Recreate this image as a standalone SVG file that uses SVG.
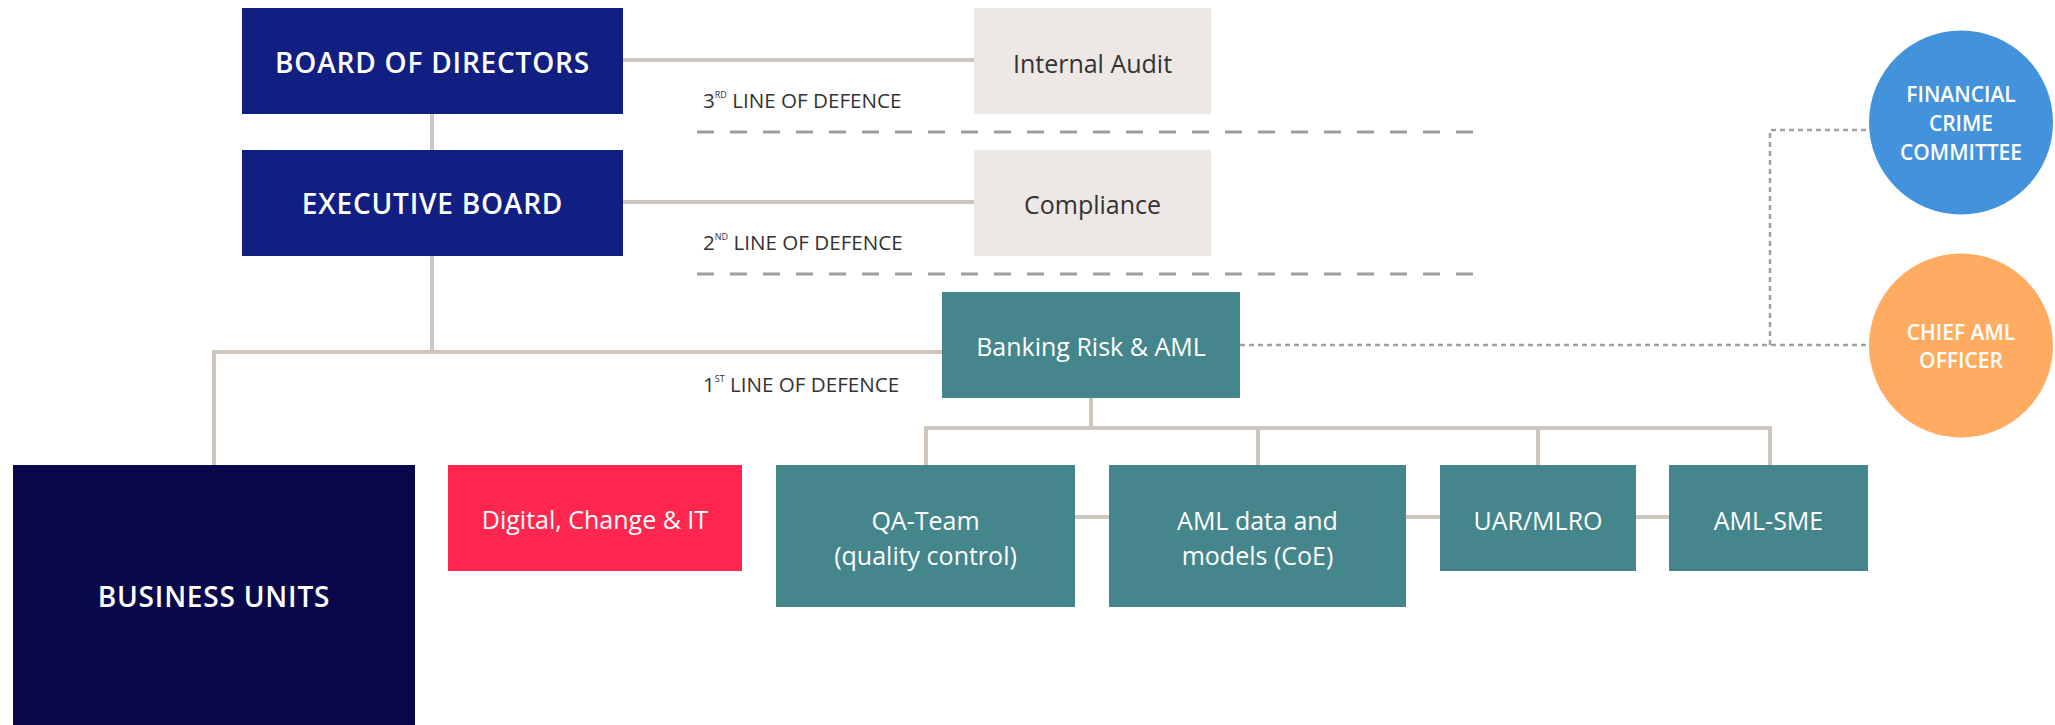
<svg xmlns="http://www.w3.org/2000/svg" width="2055" height="725" viewBox="0 0 2055 725">
<style>
text{font-family:"Open Sans","Noto Sans","Liberation Sans",sans-serif;text-anchor:middle}
.w{fill:#ffffff}
.d{fill:#333333}
.big{font-size:28px;font-weight:600;letter-spacing:0.8px}
.mid{font-size:25px}
.cir{font-size:21px;font-weight:600}
.lod{font-size:20.6px;text-anchor:start;fill:#333333}
.sup{font-size:9px}
.conn{stroke:#cec6bc;stroke-width:4;fill:none}
.dash{stroke:#9e9e9e;stroke-width:3;stroke-dasharray:17 16;fill:none}
.dot{stroke:#a0a0a0;stroke-width:2.5;stroke-dasharray:5 4;fill:none}
.teal{fill:#44868c}
.navy{fill:#111e82}
.grey{fill:#ede8e5}
</style>
<g id="connectors">
<path class="conn" d="M623 60H974M623 202H974M432 114V150M432 256V352M214 352H942M214 350V465"/>
<path class="conn" d="M1091 398V428M924 428H1772M926 426V465M1258 426V465M1538 426V465M1770 426V465"/>
<path class="conn" d="M1075 517H1109M1406 517H1440M1636 517H1669"/>
<path class="dot" d="M1240 345H1870M1770 345V130H1870"/>
</g>
<g id="lines-of-defence">
<path class="dash" d="M697 132H1480M697 274H1480"/>
<text class="lod" x="703" y="108">3<tspan class="sup" dy="-10">RD</tspan><tspan dy="10"> LINE OF DEFENCE</tspan></text>
<text class="lod" x="703" y="250">2<tspan class="sup" dy="-10">ND</tspan><tspan dy="10"> LINE OF DEFENCE</tspan></text>
<text class="lod" x="703" y="392">1<tspan class="sup" dy="-10">ST</tspan><tspan dy="10"> LINE OF DEFENCE</tspan></text>
</g>
<g id="board-of-directors"><rect class="navy" x="242" y="8" width="381" height="106"/><text class="w big" x="432.5" y="73">BOARD OF DIRECTORS</text></g>
<g id="executive-board"><rect class="navy" x="242" y="150" width="381" height="106"/><text class="w big" x="432.5" y="214">EXECUTIVE BOARD</text></g>
<g id="internal-audit"><rect class="grey" x="974" y="8" width="237" height="106"/><text class="d mid" x="1092.5" y="73">Internal Audit</text></g>
<g id="compliance"><rect class="grey" x="974" y="150" width="237" height="106"/><text class="d mid" x="1092.5" y="214">Compliance</text></g>
<g id="banking-risk-aml"><rect class="teal" x="942" y="292" width="298" height="106"/><text class="w mid" x="1091" y="356">Banking Risk &amp; AML</text></g>
<g id="business-units"><rect fill="#08084a" x="13" y="465" width="402" height="262"/><text class="w big" x="214" y="607">BUSINESS UNITS</text></g>
<g id="digital-change-it"><rect fill="#ff2750" x="448" y="465" width="294" height="106"/><text class="w mid" x="595" y="529">Digital, Change &amp; IT</text></g>
<g id="qa-team"><rect class="teal" x="776" y="465" width="299" height="142"/><text class="w mid" x="925.5" y="530">QA-Team</text><text class="w mid" x="925.5" y="565">(quality control)</text></g>
<g id="aml-data-models"><rect class="teal" x="1109" y="465" width="297" height="142"/><text class="w mid" x="1257.5" y="530">AML data and</text><text class="w mid" x="1257.5" y="565">models (CoE)</text></g>
<g id="uar-mlro"><rect class="teal" x="1440" y="465" width="196" height="106"/><text class="w mid" x="1538" y="530">UAR/MLRO</text></g>
<g id="aml-sme"><rect class="teal" x="1669" y="465" width="199" height="106"/><text class="w mid" x="1768.5" y="530">AML-SME</text></g>
<g id="financial-crime-committee"><circle fill="#4292dc" cx="1961" cy="122.5" r="92"/><text class="w cir" x="1961" y="102">FINANCIAL</text><text class="w cir" x="1961" y="131">CRIME</text><text class="w cir" x="1961" y="160">COMMITTEE</text></g>
<g id="chief-aml-officer"><circle fill="#ffab62" cx="1961" cy="345.5" r="92"/><text class="w cir" x="1961" y="340">CHIEF AML</text><text class="w cir" x="1961" y="368">OFFICER</text></g>
</svg>
